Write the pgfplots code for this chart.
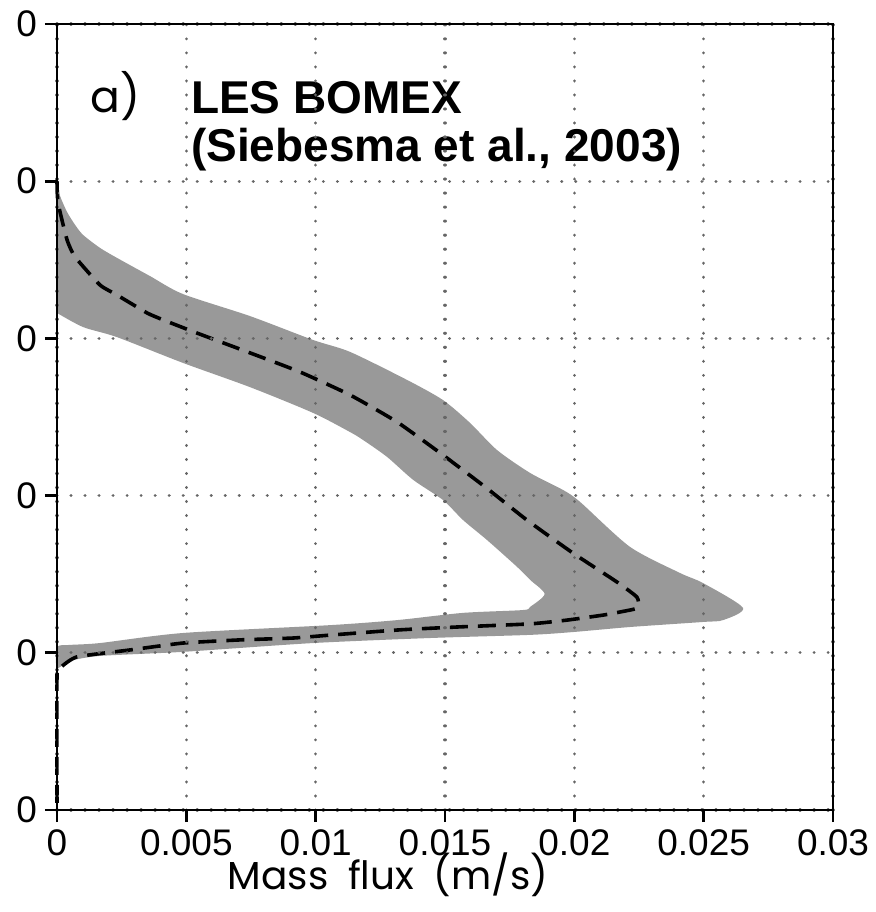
\documentclass[border=0pt]{standalone}
\usepackage{fontspec}
\setmainfont{Liberation Sans}
\newfontfamily\geofont{Poppins}
\usepackage{pgfplots}
\pgfplotsset{compat=1.18}
\usetikzlibrary{calc}

% LES BOMEX updraft mass flux: spread (shaded) and ensemble mean (dashed)
\begin{document}
\begin{tikzpicture}
\begin{axis}[
  name=ax,
  scale only axis,
  width=388pt, height=393pt,
  xmin=0, xmax=0.03, ymin=0, ymax=2500,
  xtick={0,0.005,0.01,0.015,0.02,0.025,0.03},
  xticklabels={0,0.005,0.01,0.015,0.02,0.025,0.03},
  scaled x ticks=false,
  ytick={0,500,1000,1500,2000,2500},
  yticklabels={0,0,0,0,0,0},
  /pgf/number format/assume math mode=true,
  ticklabel style={font=\fontsize{18.5}{20}\selectfont},
  tick align=outside, xtick pos=bottom, ytick pos=left,
  major tick length=6pt,
  line width=1.4pt,
  axis line style={line width=1.4pt},
  tick style={line width=1.4pt, black},
  grid=major,
  major grid style={black!60, line width=1.6pt, dash pattern=on 0.01pt off 7pt, line cap=round},
  axis on top,
  clip=false,
]
% envelope of the LES results
\addplot[fill=black!40, draw=none, smooth, tension=0.45] coordinates {
(0,2000) (0.00012,1953) (0.00039,1902) (0.0007,1861) (0.00101,1829)
(0.00166,1788) (0.00232,1756) (0.0036,1698) (0.00487,1641) (0.00746,1571)
(0.0099,1495) (0.01133,1457) (0.01353,1368)
(0.01492,1304) (0.01597,1231) (0.01701,1145) (0.01829,1072) (0.01956,1018)
(0.02022,980) (0.02215,837) (0.02408,754) (0.02497,722) (0.02652,643)
(0.02575,604) (0.02497,598) (0.02215,582) (0.01995,566) (0.01829,557)
(0.01442,547) (0.0099,531) (0.00487,503) (0.00166,490) (0.0005,474)
(0,452) (0,518) (0.0005,525) (0.00166,531) (0.00487,563)
(0.01056,588) (0.01315,604) (0.0157,627) (0.01801,636) (0.01829,646)
(0.01885,687) (0.01829,732) (0.01779,773) (0.01662,859) (0.0157,922)
(0.01492,986) (0.01377,1050) (0.01276,1123) (0.01183,1177) (0.01133,1202)
(0.0099,1263) (0.00746,1345) (0.00487,1422) (0.00232,1504) (0.00101,1536)
(0,1581)
} -- cycle;
% ensemble mean
\addplot[black, line width=1.8pt, dash pattern=on 9pt off 5pt, smooth, tension=0.3] coordinates {
(0,2000) (0.00004,1931) (0.00039,1813) (0.0007,1759) (0.00166,1670)
(0.00232,1638) (0.00348,1581) (0.0041,1559) (0.00541,1517) (0.00746,1454)
(0.0094,1393) (0.01133,1320) (0.01315,1234) (0.01492,1129) (0.01656,1027)
(0.01817,922) (0.01995,817) (0.02165,725) (0.02242,677) (0.02246,643)
(0.02178,630) (0.02112,620) (0.01972,604) (0.01829,592) (0.01546,582)
(0.01326,573) (0.01067,557) (0.00913,547) (0.00707,541) (0.00487,531)
(0.00282,509) (0.00077,487) (0.00012,452) (0,429) (0,0)
};
\node[font=\geofont\fontsize{22}{24}\selectfont] at (rel axis cs:0.075,0.908) {a)};
\node[anchor=north west, align=left, inner sep=0pt, font=\bfseries\fontsize{23}{24}\selectfont]
  at (rel axis cs:0.171,0.929) {LES BOMEX\\(Siebesma et al., 2003)};
\node[font=\geofont\fontsize{19.5}{21}\selectfont] at (rel axis cs:0.4265,-0.0827)
  {Mass\hspace{0.5em}flux\hspace{0.5em}(m/s)};
\end{axis}
\pgfresetboundingbox
\path[use as bounding box] ($(ax.south west)+(-28.5pt,-51pt)$) rectangle ($(ax.north east)+(21pt,12pt)$);
\end{tikzpicture}
\end{document}
